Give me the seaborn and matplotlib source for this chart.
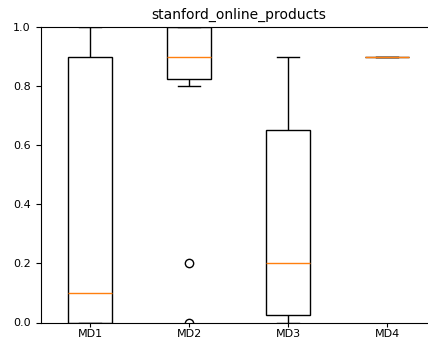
import pandas as pd
import numpy as np
import matplotlib
matplotlib.use("Agg")
import matplotlib.pyplot as plt
import seaborn as sns

# 各方法的取值
md1 = [0.0, 0.0, 0.1, 0.9, 1.0]
md2 = [0.0, 0.2, 0.8, 0.85, 0.9, 0.9, 0.9, 1.0, 1.0, 1.0, 1.0]
md3 = [0.0, 0.025, 0.2, 0.65, 0.9]
md4 = [0.9, 0.9, 0.9]
names = ["MD1", "MD2", "MD3", "MD4"]
title = "stanford_online_products"

values = [md1, md2, md3, md4]
df = pd.DataFrame({
    "method": np.repeat(names, [len(v) for v in values]),
    "score": np.concatenate(values),
})

fig = plt.figure(figsize=(4.28, 3.4), dpi=100)
ax = fig.add_axes([40.5 / 428, 17.5 / 340, 396 / 428, 295.5 / 340])

sns.boxplot(
    data=df, x="method", y="score", order=names, ax=ax,
    width=0.45, gap=0, color="white", linecolor="black", linewidth=1,
    medianprops=dict(color="#ff7f0e", linewidth=1),
    flierprops=dict(marker="o", markerfacecolor="none", markeredgecolor="black",
                    markersize=6),
)

ax.set_ylim(0, 1.0)
ax.set_xlim(-0.5, 3.5)
ax.set_title(title, fontsize=10)
ax.set_xlabel("")
ax.set_ylabel("")
ax.tick_params(labelsize=8)
ax.tick_params(axis="x", length=3, pad=1.5)
ax.spines["right"].set_visible(False)

fig.savefig("out.png", dpi=100)
